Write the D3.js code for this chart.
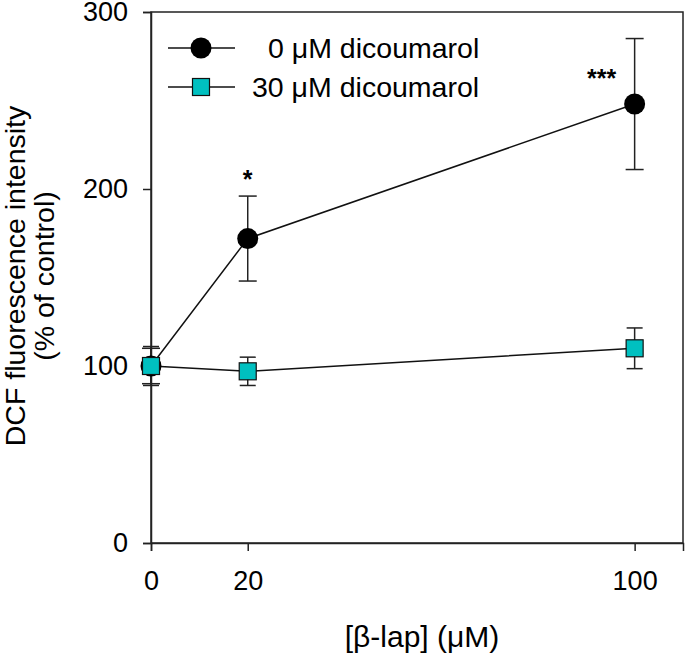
<!DOCTYPE html>
<html><head><meta charset="utf-8">
<script src="https://cdn.jsdelivr.net/npm/d3@7"></script>
<style>body{margin:0;background:#fff}svg{display:block}text{font-family:"Liberation Sans",Arial,sans-serif;fill:#000}</style>
</head><body>
<script>
const xValues = [0, 20, 100];
const seriesNames = ["0 \u03BCM dicoumarol", "30 \u03BCM dicoumarol"];
const meanNoDic = [100, 172, 248];
const errNoDic = [10, 24, 37];
const meanDic = [100, 97, 110];
const errDic = [11, 8, 11.5];
const sigLabels = ["", "*", "***"];
const xTicks = [0, 20, 100];
const yTicks = [0, 100, 200, 300];

const W = 685, H = 653;
const svg = d3.select("body").append("svg").attr("width", W).attr("height", H);
const x = d3.scaleLinear().domain([0, 110]).range([151, 683]);
const y = d3.scaleLinear().domain([0, 300]).range([543, 12]);
const fs = 27;

// frame
svg.append("rect").attr("x", 151).attr("y", 12).attr("width", 532).attr("height", 531)
  .attr("fill", "none").attr("stroke", "#222").attr("stroke-width", 1.5);

const xAxis = svg.append("g").attr("transform", "translate(0,543)")
  .call(d3.axisBottom(x).tickValues(xTicks).tickSize(8).tickPadding(20).tickFormat(d3.format("d")));
const yAxis = svg.append("g").attr("transform", "translate(151,0)")
  .call(d3.axisLeft(y).tickValues(yTicks).tickSize(8).tickPadding(15).tickFormat(d3.format("d")));
[xAxis, yAxis].forEach(g => {
  g.select(".domain").attr("stroke", "#222").attr("stroke-width", 1.5);
  g.selectAll(".tick line").attr("stroke", "#222").attr("stroke-width", 1.5);
  g.selectAll("text").attr("font-size", fs).attr("font-family", "Liberation Sans, Arial, sans-serif").attr("fill", "#000");
});

const line = d3.line().x((d, i) => x(xValues[i])).y(d => y(d));
function series(means, errs, capW) {
  svg.append("path").datum(means).attr("d", line).attr("fill", "none").attr("stroke", "#111").attr("stroke-width", 1.5);
  means.forEach((m, i) => {
    const cx = x(xValues[i]);
    svg.append("line").attr("x1", cx).attr("x2", cx).attr("y1", y(m - errs[i])).attr("y2", y(m + errs[i]))
      .attr("stroke", "#222").attr("stroke-width", 1.5);
    [m - errs[i], m + errs[i]].forEach(v => svg.append("line").attr("x1", cx - capW / 2).attr("x2", cx + capW / 2)
      .attr("y1", y(v)).attr("y2", y(v)).attr("stroke", "#222").attr("stroke-width", 1.5));
  });
}
series(meanNoDic, errNoDic, 18);
series(meanDic, errDic, 16);

meanNoDic.forEach((m, i) => svg.append("circle").attr("cx", x(xValues[i])).attr("cy", y(m)).attr("r", 10.5).attr("fill", "#000"));
meanDic.forEach((m, i) => svg.append("rect").attr("x", x(xValues[i]) - 8.5).attr("y", y(m) - 8.5)
  .attr("width", 17).attr("height", 17).attr("fill", "#00C0C0").attr("stroke", "#111").attr("stroke-width", 1.2));

meanNoDic.forEach((m, i) => {
  if (!sigLabels[i]) return;
  const multi = sigLabels[i].length > 1;
  svg.append("text").attr("x", x(xValues[i]) - (multi ? 33 : 0))
    .attr("y", multi ? y(m) - 17 : y(m + errNoDic[i]) - 8)
    .attr("text-anchor", "middle").attr("font-size", 25).attr("font-weight", "bold").text(sigLabels[i]);
});

// legend
const lfs = 28.5;
const leg = [{ y: 48, name: seriesNames[0], tx: 268, type: "c" }, { y: 87, name: seriesNames[1], tx: 252, type: "s" }];
leg.forEach(l => {
  svg.append("line").attr("x1", 168).attr("x2", 235).attr("y1", l.y).attr("y2", l.y).attr("stroke", "#111").attr("stroke-width", 1.5);
  if (l.type === "c") svg.append("circle").attr("cx", 201).attr("cy", l.y).attr("r", 10.5).attr("fill", "#000");
  else svg.append("rect").attr("x", 192.5).attr("y", l.y - 8.5).attr("width", 17).attr("height", 17).attr("fill", "#00C0C0").attr("stroke", "#111").attr("stroke-width", 1.2);
  svg.append("text").attr("x", l.tx).attr("y", l.y + 10).attr("font-size", lfs).text(l.name);
});

svg.append("text").attr("x", 422).attr("y", 647).attr("text-anchor", "middle").attr("font-size", 30).text("[\u03B2-lap] (\u03BCM)");
const yl = svg.append("text").attr("transform", "translate(0,276) rotate(-90)").attr("text-anchor", "middle").attr("font-size", 28.5);
yl.append("tspan").attr("x", 0).attr("y", 25).text("DCF fluorescence intensity");
yl.append("tspan").attr("x", 0).attr("y", 54).text("(% of control)");
</script>
</body></html>
